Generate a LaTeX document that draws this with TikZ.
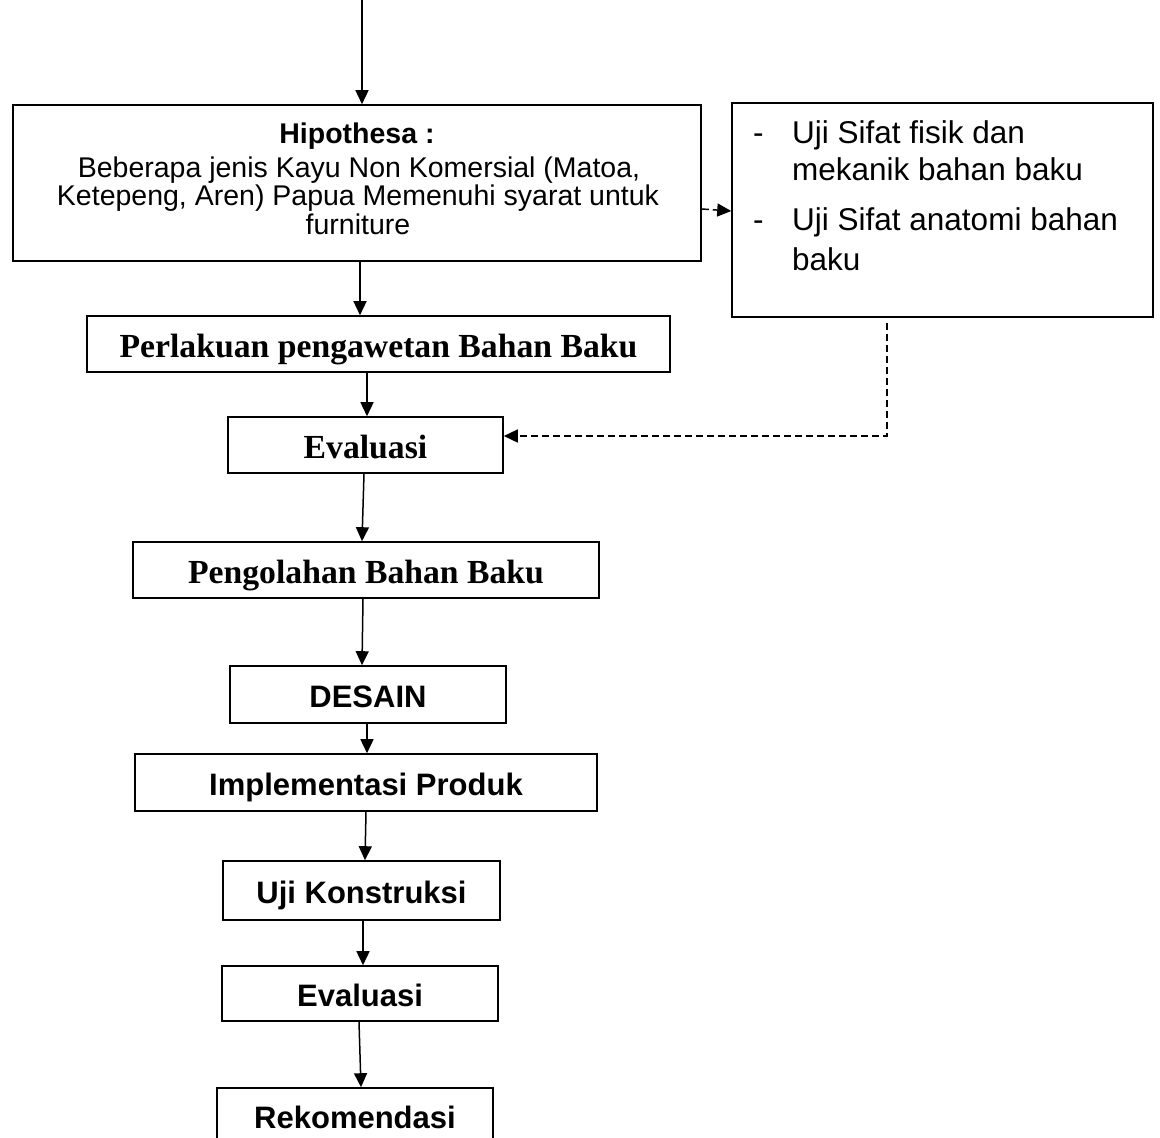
\documentclass[tikz,border=0pt]{standalone}
\usepackage{fontspec}
\newfontfamily\hsans{Liberation Sans}
\newfontfamily\hserif{Liberation Serif}
\usetikzlibrary{arrows.meta}
\begin{document}
\begin{tikzpicture}[x=1pt,y=-1pt,
  box/.style={draw, line width=1.6pt, rectangle, inner sep=0pt},
  sbox/.style={box, text depth=0pt},
  serifb/.style={font=\hserif\bfseries\fontsize{33.7}{40}\selectfont, text height=27pt},
  sansb/.style={font=\hsans\bfseries\fontsize{31}{36}\selectfont, text height=25pt},
  hyptext/.style={anchor=base, inner sep=0pt, font=\hsans\fontsize{28.5}{30}\selectfont},
  rtext/.style={anchor=base west, inner sep=0pt, font=\hsans\fontsize{31.5}{36}\selectfont},
  arr/.style={line width=1.5pt, -{Triangle[length=14pt,width=13pt]}},
  dl/.style={line width=1.5pt, dash pattern=on 7pt off 4pt, -{Triangle[length=14pt,width=13pt]}}]
\useasboundingbox (0,0) rectangle (1160,1138);

% Hipothesa box
\node[box, minimum width=688pt, minimum height=156pt] (hyp) at (357,183) {};
\node[hyptext, font=\hsans\bfseries\fontsize{28.5}{30}\selectfont] (hyph) at (357,143) {Hipothesa :};
\node[hyptext] (hyp1) at (359,177) {Beberapa jenis Kayu Non Komersial (Matoa,};
\node[hyptext] (hyp2) at (358,205.5) {Ketepeng, Aren) Papua Memenuhi syarat untuk};
\node[hyptext] (hyp3) at (358,234) {furniture};

% right box
\node[box, minimum width=421pt, minimum height=214pt] (rb) at (942.5,210) {};
\node[rtext] (d1) at (753,143) {-};
\node[rtext] (r1) at (792,143) {Uji Sifat fisik dan};
\node[rtext] (r2) at (792,180) {mekanik bahan baku};
\node[rtext] (d2) at (753,230) {-};
\node[rtext] (r3) at (792,230) {Uji Sifat anatomi bahan};
\node[rtext] (r4) at (792,270) {baku};

% chain
\node[sbox, serifb, minimum width=583pt, minimum height=56pt] (perl) at (378.5,344) {Perlakuan pengawetan Bahan Baku};
\node[sbox, serifb, minimum width=275pt, minimum height=56pt] (ev1) at (365.5,445) {Evaluasi};
\node[sbox, serifb, minimum width=466pt, minimum height=56pt] (peng) at (366,570) {Pengolahan Bahan Baku};
\node[sbox, sansb, minimum width=276pt, minimum height=57pt] (des) at (368,694.5) {DESAIN};
\node[sbox, sansb, minimum width=462pt, minimum height=57pt] (impl) at (366,782.5) {Implementasi Produk};
\node[sbox, sansb, minimum width=277pt, minimum height=59pt] (uji) at (361.5,890.5) {Uji Konstruksi};
\node[sbox, sansb, minimum width=276pt, minimum height=55pt] (ev2) at (360,993.5) {Evaluasi};
\node[sbox, sansb, minimum width=276pt, minimum height=56pt] (rek) at (355,1116) {Rekomendasi};

% arrows
\coordinate (top) at (362,0);
\draw[arr] (top) -- (top |- hyp.north);
\draw[arr] ([xshift=3pt]hyp.south) -- ([xshift=-18.5pt]perl.north);
\draw[arr] ([xshift=-11.5pt]perl.south) -- ([xshift=1.5pt]ev1.north);
\draw[arr] ([xshift=-1.5pt]ev1.south) -- ([xshift=-4pt]peng.north);
\draw[arr] ([xshift=-3pt]peng.south) -- ([xshift=-6pt]des.north);
\draw[arr] ([xshift=-1pt]des.south) -- ([xshift=1pt]impl.north);
\draw[arr] (impl.south) -- ([xshift=3.5pt]uji.north);
\draw[arr] ([xshift=1.5pt]uji.south) -- ([xshift=3pt]ev2.north);
\draw[arr] ([xshift=-1pt]ev2.south) -- ([xshift=6pt]rek.north);

% dashed connectors
\draw[dl] ([yshift=-26pt]hyp.east) -- ([yshift=-1pt]rb.west);
\coordinate (c1) at (887,323);
\coordinate (c2) at (887,436);
\draw[dl] (c1) -- (c2) -- ([yshift=9pt]ev1.east);
\end{tikzpicture}
\end{document}
